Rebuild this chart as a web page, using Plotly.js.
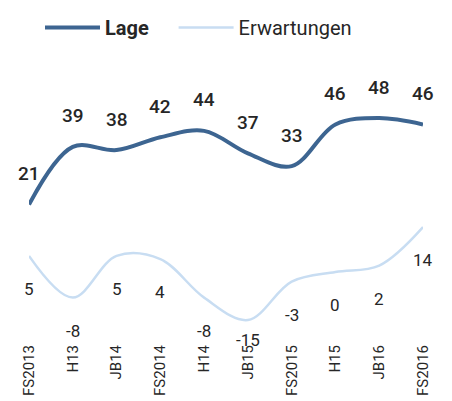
<!DOCTYPE html>
<html><head><meta charset="utf-8">
<script src="https://cdn.plot.ly/plotly-3.0.1.min.js"></script>
<style>html,body{margin:0;padding:0;background:#fff}#c{width:452px;height:401px}</style>
</head><body><div id="c"></div>
<script>
const categories = ["FS2013","H13","JB14","FS2014","H14","JB15","FS2015","H15","JB16","FS2016"];
const lage = [21,39,38,42,44,37,33,46,48,46];
const erwartungen = [5,-8,5,4,-8,-15,-3,0,2,14];
const lageLabels = ["21","39","38","42","44","37","33","46","48","46"];
const erwLabels = ["5","-8","5","4","-8","-15","-3","0","2","14"];

const font = "Roboto, 'Open Sans', sans-serif";
const annotations = [];
categories.forEach((c,i)=>{
  annotations.push({x:c,y:lage[i],text:lageLabels[i],showarrow:false,yshift:31,
    font:{family:font,size:19,color:"#262626",weight:500}});
  annotations.push({x:c,y:erwartungen[i],text:erwLabels[i],showarrow:false,
    yshift: erwartungen[i]===-15 ? -20 : -33,
    font:{family:font,size:17,color:"#262626"}});
});

const data = [
  {x:categories,y:lage,name:"<b>Lage</b>&nbsp;&nbsp;&nbsp;&nbsp;",type:"scatter",mode:"lines",
   line:{color:"#3d6591",width:4,shape:"spline",smoothing:1}},
  {x:categories,y:erwartungen,name:"Erwartungen",type:"scatter",mode:"lines",
   line:{color:"#c8ddf2",width:2.5,shape:"spline",smoothing:1}}
];
const layout = {
  width:452,height:401,
  margin:{l:29,r:29,t:60,b:71},
  paper_bgcolor:"#fff",plot_bgcolor:"#fff",
  showlegend:true,
  legend:{orientation:"h",xref:"container",yref:"container",x:40/452,xanchor:"left",y:1-8/401,yanchor:"top",
    itemwidth:55,font:{family:font,size:20,color:"#262626"}},
  xaxis:{type:"category",range:[0,9],showgrid:false,zeroline:false,showline:false,
    tickangle:-90,ticks:"",ticklabelstandoff:11,tickfont:{family:font,size:15,color:"#262626"}},
  yaxis:{range:[-18.1,66.1],visible:false,showgrid:false,zeroline:false},
  annotations:annotations
};
Plotly.newPlot("c",data,layout,{displayModeBar:false,staticPlot:true});
</script></body></html>
